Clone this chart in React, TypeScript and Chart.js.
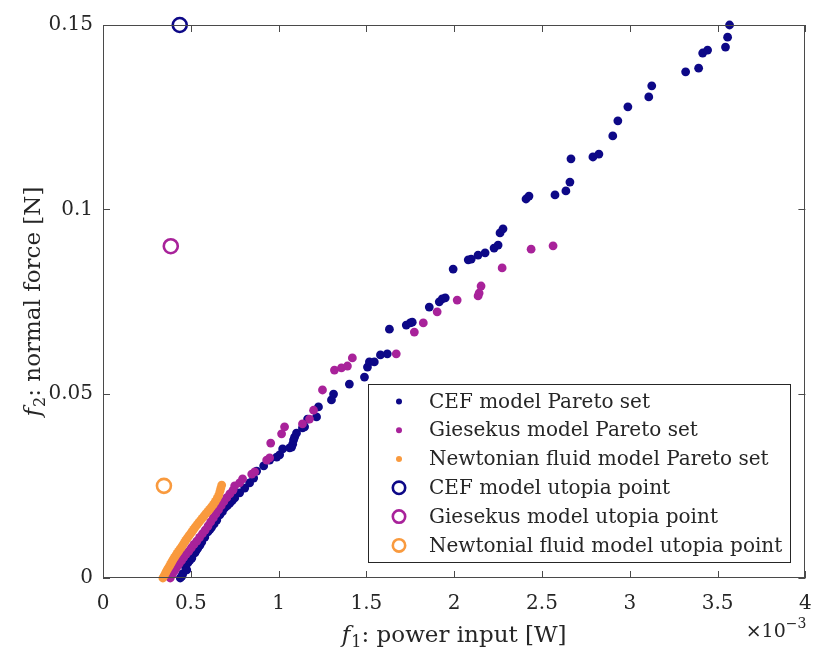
import React, { useEffect, useRef } from 'react';
import { Chart, registerables } from 'chart.js';

Chart.register(...registerables);

// x values in units of 1e-3 W, y values in N
const cefPareto: [number, number][] = [
  [0.440, 0.0000], [0.449, 0.0005], [0.455, 0.0012], [0.470, 0.0030], [0.477, 0.0022],
  [0.483, 0.0041], [0.493, 0.0047], [0.506, 0.0054], [0.523, 0.0068], [0.530, 0.0074],
  [0.540, 0.0081], [0.552, 0.0089], [0.563, 0.0098], [0.580, 0.0111], [0.597, 0.0125],
  [0.608, 0.0131], [0.619, 0.0138], [0.633, 0.0147], [0.648, 0.0157], [0.665, 0.0171],
  [0.680, 0.0180], [0.693, 0.0190], [0.708, 0.0196], [0.722, 0.0203], [0.736, 0.0210],
  [0.750, 0.0217], [0.778, 0.0231], [0.807, 0.0244], [0.835, 0.0258], [0.858, 0.0271],
  [0.875, 0.0290], [0.915, 0.0304], [0.949, 0.0320], [0.989, 0.0328], [1.006, 0.0334],
  [1.023, 0.0350], [1.063, 0.0353], [1.074, 0.0355], [1.080, 0.0363], [1.085, 0.0374],
  [1.091, 0.0382], [1.102, 0.0393], [1.136, 0.0407], [1.148, 0.0410], [1.165, 0.0431],
  [1.216, 0.0437], [1.227, 0.0464], [1.301, 0.0483], [1.313, 0.0499], [1.403, 0.0526],
  [1.489, 0.0545], [1.506, 0.0572], [1.517, 0.0586], [1.545, 0.0586], [1.580, 0.0605],
  [1.619, 0.0608], [1.631, 0.0675], [1.727, 0.0686], [1.750, 0.0692], [1.761, 0.0694],
  [1.858, 0.0735], [1.915, 0.0749], [1.932, 0.0757], [1.949, 0.0760], [1.994, 0.0838],
  [2.080, 0.0863], [2.097, 0.0865], [2.136, 0.0876], [2.176, 0.0882], [2.227, 0.0895],
  [2.250, 0.0903], [2.261, 0.0936], [2.278, 0.0947], [2.409, 0.1028], [2.426, 0.1036],
  [2.574, 0.1039], [2.636, 0.1050], [2.659, 0.1074], [2.665, 0.1137], [2.790, 0.1142],
  [2.824, 0.1150], [2.903, 0.1199], [2.932, 0.1240], [2.989, 0.1278], [3.108, 0.1305],
  [3.125, 0.1335], [3.318, 0.1373], [3.392, 0.1383], [3.415, 0.1424], [3.443, 0.1432],
  [3.545, 0.1440], [3.557, 0.1467], [3.568, 0.1500],
];

const giesekusPareto: [number, number][] = [
  [0.383, 0.0000], [0.395, 0.0010], [0.408, 0.0020], [0.420, 0.0029], [0.433, 0.0038],
  [0.447, 0.0047], [0.460, 0.0056], [0.474, 0.0065], [0.489, 0.0073], [0.503, 0.0082],
  [0.518, 0.0091], [0.534, 0.0100], [0.550, 0.0110], [0.566, 0.0120], [0.582, 0.0130],
  [0.598, 0.0141], [0.613, 0.0152], [0.628, 0.0163], [0.643, 0.0174], [0.658, 0.0185],
  [0.673, 0.0196], [0.688, 0.0207], [0.705, 0.0218], [0.722, 0.0228], [0.740, 0.0238],
  [0.750, 0.0250], [0.778, 0.0258], [0.795, 0.0269], [0.847, 0.0282], [0.864, 0.0288],
  [0.932, 0.0320], [0.949, 0.0326], [0.955, 0.0366], [1.017, 0.0391], [1.034, 0.0410],
  [1.136, 0.0418], [1.176, 0.0431], [1.199, 0.0455], [1.250, 0.0510], [1.318, 0.0564],
  [1.358, 0.0570], [1.392, 0.0575], [1.420, 0.0597], [1.670, 0.0608], [1.773, 0.0667],
  [1.824, 0.0692], [1.903, 0.0722], [2.017, 0.0754], [2.136, 0.0765], [2.142, 0.0773],
  [2.153, 0.0792], [2.273, 0.0841], [2.438, 0.0892], [2.563, 0.0901],
];

const newtonianPareto: [number, number][] = [
  [0.341, 0.0000], [0.348, 0.0006], [0.356, 0.0013], [0.362, 0.0019], [0.369, 0.0025],
  [0.377, 0.0031], [0.384, 0.0037], [0.391, 0.0043], [0.398, 0.0049], [0.406, 0.0055],
  [0.414, 0.0061], [0.422, 0.0067], [0.430, 0.0072], [0.438, 0.0078], [0.447, 0.0084],
  [0.455, 0.0090], [0.463, 0.0096], [0.471, 0.0102], [0.480, 0.0108], [0.489, 0.0114],
  [0.498, 0.0120], [0.507, 0.0126], [0.516, 0.0132], [0.525, 0.0138], [0.535, 0.0144],
  [0.545, 0.0150], [0.555, 0.0156], [0.565, 0.0162], [0.575, 0.0168], [0.585, 0.0174],
  [0.596, 0.0180], [0.607, 0.0186], [0.618, 0.0193], [0.629, 0.0200], [0.640, 0.0208],
  [0.650, 0.0216], [0.659, 0.0225], [0.666, 0.0235], [0.671, 0.0244], [0.676, 0.0252],
];

const cefUtopia: [number, number][] = [[0.437, 0.150]];
const giesekusUtopia: [number, number][] = [[0.386, 0.090]];
const newtonianUtopia: [number, number][] = [[0.347, 0.025]];

const xTicks = [0, 0.5, 1, 1.5, 2, 2.5, 3, 3.5, 4];
const xTickLabels = ['0', '0.5', '1', '1.5', '2', '2.5', '3', '3.5', '4'];
const yTicks = [0, 0.05, 0.1, 0.15];
const yTickLabels = ['0', '0.05', '0.1', '0.15'];

const seriesLabels = [
  'CEF model Pareto set',
  'Giesekus model Pareto set',
  'Newtonian fluid model Pareto set',
  'CEF model utopia point',
  'Giesekus model utopia point',
  'Newtonial fluid model utopia point',
];

const NAVY = '#0D0887';
const PINK = '#A8229A';
const ORANGE = '#F99A3E';
const FONT = "'DejaVu Serif', serif";
const TEXT = '#262626';
const AXIS = '#4a4a4a';

const toPts = (a: [number, number][]) => a.map(([x, y]) => ({ x, y }));

const decorPlugin = {
  id: 'decor',
  afterDraw(chart: any) {
    const ctx = chart.ctx as CanvasRenderingContext2D;
    const { left, right, top, bottom } = chart.chartArea;
    const xs = chart.scales.x;
    const ys = chart.scales.y;
    ctx.save();
    // frame
    ctx.strokeStyle = AXIS;
    ctx.lineWidth = 1;
    ctx.strokeRect(Math.round(left) + 0.5, Math.round(top) + 0.5, Math.round(right - left) - 1, Math.round(bottom - top) - 1);
    const tl = 7;
    ctx.beginPath();
    xTicks.forEach((v) => {
      const p = Math.round(xs.getPixelForValue(v)) + 0.5;
      ctx.moveTo(p, bottom);
      ctx.lineTo(p, bottom - tl);
      ctx.moveTo(p, top);
      ctx.lineTo(p, top + tl);
    });
    yTicks.forEach((v) => {
      const p = Math.round(ys.getPixelForValue(v)) + 0.5;
      ctx.moveTo(left, p);
      ctx.lineTo(left + tl, p);
      ctx.moveTo(right, p);
      ctx.lineTo(right - tl, p);
    });
    ctx.stroke();

    // axis titles with italic f and subscripts
    const drawMath = (sub: string, rest: string, cx: number, cy: number, rot: boolean) => {
      const big = 23;
      const small = 16;
      ctx.save();
      ctx.translate(cx, cy);
      if (rot) ctx.rotate(-Math.PI / 2);
      ctx.fillStyle = TEXT;
      ctx.textBaseline = 'alphabetic';
      ctx.textAlign = 'left';
      ctx.font = `italic ${big}px ${FONT}`;
      const wf = ctx.measureText('f').width;
      ctx.font = `${small}px ${FONT}`;
      const ws = ctx.measureText(sub).width;
      ctx.font = `${big}px ${FONT}`;
      const wr = ctx.measureText(rest).width;
      const total = wf + 1 + ws + wr;
      let x = -total / 2;
      ctx.font = `italic ${big}px ${FONT}`;
      ctx.fillText('f', x, 0);
      x += wf + 1;
      ctx.font = `${small}px ${FONT}`;
      ctx.fillText(sub, x, 5);
      x += ws;
      ctx.font = `${big}px ${FONT}`;
      ctx.fillText(rest, x, 0);
      ctx.restore();
    };
    drawMath('1', ': power input [W]', (left + right) / 2, 642, false);
    drawMath('2', ': normal force [N]', 40, (top + bottom) / 2, true);

    // exponent label
    ctx.fillStyle = TEXT;
    ctx.textBaseline = 'alphabetic';
    ctx.textAlign = 'left';
    ctx.font = `19px ${FONT}`;
    const w1 = ctx.measureText('\u00d710').width;
    ctx.font = `14px ${FONT}`;
    const w2 = ctx.measureText('\u22123').width;
    const ex = right - w1 - w2 + 1;
    ctx.font = `19px ${FONT}`;
    ctx.fillText('\u00d710', ex, 637);
    ctx.font = `14px ${FONT}`;
    ctx.fillText('\u22123', ex + w1, 628);

    // legend
    const fs = 20;
    ctx.font = `${fs}px ${FONT}`;
    const tw = Math.max(...seriesLabels.map((s) => ctx.measureText(s).width));
    const rowH = 28.8;
    const boxW = 61 + tw + 8;
    const boxH = rowH * seriesLabels.length + 5;
    const bx = Math.round(right - 15 - boxW);
    const by = Math.round(bottom - 16 - boxH);
    ctx.fillStyle = '#ffffff';
    ctx.fillRect(bx, by, boxW, boxH);
    ctx.strokeStyle = TEXT;
    ctx.lineWidth = 1;
    ctx.strokeRect(bx + 0.5, by + 0.5, Math.round(boxW), Math.round(boxH));
    const colors = [NAVY, PINK, ORANGE, NAVY, PINK, ORANGE];
    seriesLabels.forEach((lab, i) => {
      const cy = by + 3 + rowH * (i + 0.5);
      const mx = bx + 31;
      ctx.beginPath();
      if (i < 3) {
        ctx.fillStyle = colors[i];
        ctx.arc(mx, cy, 3, 0, Math.PI * 2);
        ctx.fill();
      } else {
        ctx.strokeStyle = colors[i];
        ctx.lineWidth = 2.6;
        ctx.arc(mx, cy, 6.2, 0, Math.PI * 2);
        ctx.stroke();
      }
      ctx.fillStyle = TEXT;
      ctx.font = `${fs}px ${FONT}`;
      ctx.textBaseline = 'middle';
      ctx.fillText(lab, bx + 61, cy + 1);
    });
    ctx.restore();
  },
};

export default function App() {
  const ref = useRef<HTMLCanvasElement | null>(null);
  useEffect(() => {
    document.body.style.margin = '0';
    const canvas = ref.current;
    if (!canvas) return;
    const dot = (label: string, data: [number, number][], color: string, order: number) => ({
      type: 'scatter' as const,
      label,
      data: toPts(data),
      backgroundColor: color,
      borderWidth: 0,
      pointRadius: 4.4,
      pointHoverRadius: 4.4,
      clip: false as any,
      order,
    });
    const ring = (label: string, data: [number, number][], color: string) => ({
      type: 'scatter' as const,
      label,
      data: toPts(data),
      backgroundColor: 'rgba(0,0,0,0)',
      borderColor: color,
      borderWidth: 2.6,
      pointRadius: 7,
      pointHoverRadius: 7,
      clip: false as any,
      order: 0,
    });
    const chart = new Chart(canvas, {
      type: 'scatter',
      data: {
        datasets: [
          dot(seriesLabels[0], cefPareto, NAVY, 3),
          dot(seriesLabels[1], giesekusPareto, PINK, 2),
          dot(seriesLabels[2], newtonianPareto, ORANGE, 1),
          ring(seriesLabels[3], cefUtopia, NAVY),
          ring(seriesLabels[4], giesekusUtopia, PINK),
          ring(seriesLabels[5], newtonianUtopia, ORANGE),
        ] as any,
      },
      options: {
        responsive: false,
        animation: false,
        events: [],
        layout: { padding: { top: 25, right: 8, left: 0, bottom: 0 } },
        plugins: { legend: { display: false }, tooltip: { enabled: false } },
        scales: {
          x: {
            type: 'linear',
            min: 0,
            max: 4,
            grid: { display: false, drawTicks: false },
            border: { display: false },
            afterBuildTicks: (s: any) => {
              s.ticks = xTicks.map((v) => ({ value: v }));
            },
            afterFit: (s: any) => {
              s.height = 72;
              s.paddingLeft = 0;
              s.paddingRight = 0;
            },
            ticks: {
              autoSkip: false,
              maxRotation: 0,
              padding: 14,
              color: TEXT,
              font: { family: FONT, size: 20 },
              callback: (v: any) => xTickLabels[xTicks.indexOf(Number(v))] ?? '',
            },
          },
          y: {
            type: 'linear',
            min: 0,
            max: 0.15,
            grid: { display: false, drawTicks: false },
            border: { display: false },
            afterBuildTicks: (s: any) => {
              s.ticks = yTicks.map((v) => ({ value: v }));
            },
            afterFit: (s: any) => {
              s.width = 103;
              s.paddingTop = 0;
              s.paddingBottom = 0;
            },
            ticks: {
              autoSkip: false,
              padding: 10,
              color: TEXT,
              font: { family: FONT, size: 20 },
              callback: (v: any) => yTickLabels[yTicks.indexOf(Number(v))] ?? '',
            },
          },
        },
      },
      plugins: [decorPlugin],
    });
    return () => chart.destroy();
  }, []);
  return (
    <div style={{ width: 815, height: 650 }}>
      <canvas ref={ref} width={815} height={650} style={{ display: 'block' }} />
    </div>
  );
}
